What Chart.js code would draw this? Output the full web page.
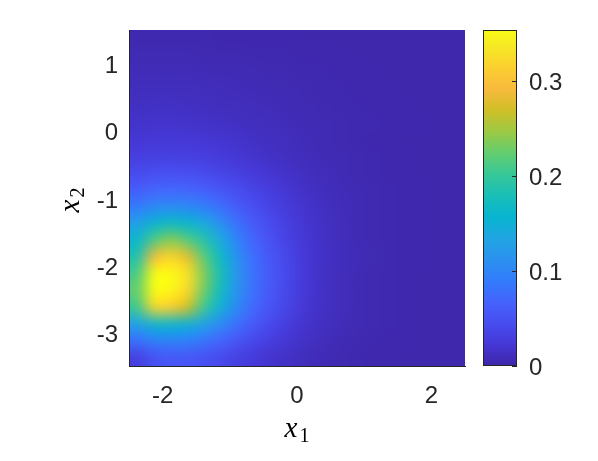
<!DOCTYPE html>
<html>
<head>
<meta charset="utf-8">
<script src="https://cdn.jsdelivr.net/npm/chart.js@4.4.1/dist/chart.umd.min.js"></script>
<style>
html, body { margin: 0; padding: 0; background: #fff; }
</style>
</head>
<body>
<canvas id="canvas" width="598" height="461"></canvas>
<script>
// cell centres of the density grid
const xCenters = [-2.375,-2.125,-1.875,-1.625,-1.375,-1.125,-0.875,-0.625,-0.375,-0.125,0.125,0.375,0.625,0.875,1.125,1.375,1.625,1.875,2.125,2.375];
const yCenters = [1.375,1.125,0.875,0.625,0.375,0.125,-0.125,-0.375,-0.625,-0.875,-1.125,-1.375,-1.625,-1.875,-2.125,-2.375,-2.625,-2.875,-3.125,-3.375];

// density values, one row per yCenters entry (top to bottom)
const density = [
  [.004,.004,.004,.004,.004,.003,.003,.003,.003,.003,.002,.002,.002,.002,.002,.002,.002,.002,.002,.002],
  [.006,.006,.006,.006,.005,.005,.005,.004,.004,.004,.003,.003,.003,.002,.002,.002,.002,.002,.002,.002],
  [.008,.008,.008,.008,.007,.007,.006,.006,.005,.005,.004,.004,.003,.003,.003,.002,.002,.002,.002,.002],
  [.010,.011,.011,.010,.010,.009,.008,.007,.006,.006,.005,.004,.004,.003,.003,.003,.002,.002,.002,.002],
  [.013,.014,.014,.013,.012,.011,.010,.009,.008,.007,.006,.005,.004,.004,.003,.003,.003,.002,.002,.002],
  [.017,.018,.018,.017,.016,.014,.013,.011,.010,.008,.007,.006,.005,.004,.004,.003,.003,.003,.002,.002],
  [.022,.024,.024,.023,.022,.020,.017,.014,.012,.010,.008,.006,.005,.004,.003,.003,.002,.002,.002,.002],
  [.030,.032,.032,.031,.029,.026,.022,.018,.015,.012,.009,.007,.006,.005,.004,.003,.003,.002,.002,.002],
  [.042,.046,.047,.046,.042,.037,.031,.025,.020,.016,.012,.009,.007,.005,.004,.003,.003,.002,.002,.002],
  [.060,.068,.070,.068,.062,.053,.044,.035,.028,.021,.015,.011,.008,.006,.005,.004,.003,.003,.002,.002],
  [.088,.102,.106,.102,.092,.076,.058,.045,.034,.026,.018,.013,.009,.007,.005,.004,.003,.003,.002,.002],
  [.128,.155,.168,.158,.140,.108,.078,.056,.042,.030,.021,.014,.010,.007,.005,.004,.003,.003,.002,.002],
  [.160,.215,.240,.218,.188,.140,.095,.066,.047,.033,.022,.015,.010,.007,.005,.004,.003,.003,.002,.002],
  [.185,.290,.320,.282,.218,.163,.108,.074,.053,.037,.024,.016,.011,.008,.006,.004,.003,.003,.002,.002],
  [.210,.354,.354,.330,.235,.175,.114,.078,.055,.038,.024,.015,.010,.007,.005,.004,.003,.002,.002,.002],
  [.225,.354,.350,.320,.228,.168,.110,.076,.054,.037,.023,.015,.010,.007,.005,.004,.003,.002,.002,.002],
  [.205,.320,.310,.270,.202,.148,.100,.070,.050,.035,.022,.014,.010,.007,.005,.004,.003,.002,.002,.002],
  [.130,.162,.162,.152,.130,.105,.077,.055,.040,.028,.019,.013,.009,.006,.005,.004,.003,.002,.002,.002],
  [.078,.093,.096,.094,.083,.067,.052,.039,.029,.021,.014,.010,.007,.005,.004,.003,.003,.002,.002,.002],
  [.030,.050,.055,.054,.048,.041,.032,.025,.019,.014,.010,.007,.005,.004,.003,.003,.002,.002,.002,.002]
];

const xRange = [-2.5, 2.5];
const yRange = [-3.5, 1.5];
const cbRange = [0, 0.354];
const xTicks = [-2, 0, 2];
const yTicks = [-3, -2, -1, 0, 1];
const cbTicks = [0, 0.1, 0.2, 0.3];

// parula colour stops
const parulaPos = [0,.0635,.127,.1905,.254,.3175,.381,.4444,.508,.5714,.635,.6984,.762,.8254,.8889,.9524,1];
const parulaRgb = [
  [62,38,168],[69,55,213],[72,77,240],[69,99,253],[50,124,252],[43,145,239],[32,165,227],[8,181,208],
  [25,191,182],[55,200,151],[100,205,111],[157,201,67],[209,191,39],[248,186,61],[252,207,48],[245,233,36],[249,251,21]
];

const axisColor = '#262626';
const tickFont = {family: '"Liberation Sans", Arial, sans-serif', size: 24};

function parula(f) {
  f = Math.max(0, Math.min(1, f));
  let k = 1;
  while (k < parulaPos.length - 1 && parulaPos[k] < f) k++;
  const t = (f - parulaPos[k-1]) / (parulaPos[k] - parulaPos[k-1]);
  const a = parulaRgb[k-1], b = parulaRgb[k];
  return [0,1,2].map(i => Math.round(a[i] + (b[i] - a[i]) * t));
}

function fixTicks(list) {
  return function (scale) { scale.ticks = list.map(v => ({value: v})); };
}

const heatmapPlugin = {
  id: 'heatmap',
  beforeDraw(chart) {
    const ctx = chart.ctx;
    const xs = chart.scales.x, ys = chart.scales.y;
    const nx = xCenters.length, ny = yCenters.length;
    // small image, one pixel per cell, edge cells repeated once all round
    const off = document.createElement('canvas');
    off.width = nx + 2; off.height = ny + 2;
    const octx = off.getContext('2d');
    const img = octx.createImageData(nx + 2, ny + 2);
    for (let j = 0; j < ny + 2; j++) {
      for (let i = 0; i < nx + 2; i++) {
        const jj = Math.min(ny - 1, Math.max(0, j - 1));
        const ii = Math.min(nx - 1, Math.max(0, i - 1));
        const c = parula(density[jj][ii] / cbRange[1]);
        const p = (j * (nx + 2) + i) * 4;
        img.data[p] = c[0]; img.data[p+1] = c[1]; img.data[p+2] = c[2]; img.data[p+3] = 255;
      }
    }
    octx.putImageData(img, 0, 0);
    const hx = (xCenters[1] - xCenters[0]) / 2;
    const hy = (yCenters[0] - yCenters[1]) / 2;
    const x0 = xs.getPixelForValue(xCenters[0] - hx);
    const x1 = xs.getPixelForValue(xCenters[nx-1] + hx);
    const y0 = ys.getPixelForValue(yCenters[0] + hy);
    const y1 = ys.getPixelForValue(yCenters[ny-1] - hy);
    const cw = (x1 - x0) / nx, ch = (y1 - y0) / ny;
    ctx.save();
    ctx.beginPath();
    ctx.rect(x0, y0, x1 - x0, y1 - y0);
    ctx.clip();
    ctx.imageSmoothingEnabled = true;
    ctx.imageSmoothingQuality = 'high';
    ctx.filter = 'blur(4px)';
    ctx.drawImage(off, x0 - cw, y0 - ch, x1 - x0 + 2 * cw, y1 - y0 + 2 * ch);
    ctx.restore();
  },
  afterDraw(chart) {
    const ctx = chart.ctx;
    const area = chart.chartArea;
    const cb = chart.scales.cb;
    // colorbar
    const left = area.right + 18, w = 34;
    const top = cb.getPixelForValue(cbRange[1]);
    const bot = cb.getPixelForValue(cbRange[0]);
    const grad = ctx.createLinearGradient(0, bot, 0, top);
    parulaPos.forEach((p, i) => grad.addColorStop(p, 'rgb(' + parulaRgb[i].join(',') + ')'));
    ctx.save();
    ctx.fillStyle = grad;
    ctx.fillRect(left, top, w, bot - top);
    ctx.strokeStyle = axisColor;
    ctx.lineWidth = 1;
    ctx.strokeRect(left + 0.5, top + 0.5, w - 1, bot - top - 1);
    ctx.beginPath();
    cbTicks.forEach(v => {
      const y = Math.round(cb.getPixelForValue(v)) + 0.5;
      ctx.moveTo(left + w - 5, y);
      ctx.lineTo(left + w, y);
    });
    ctx.stroke();

    // axis titles x1 and x2
    ctx.fillStyle = '#000';
    ctx.textBaseline = 'alphabetic';
    const bigFont = 'italic 29px "Liberation Serif", "DejaVu Serif", serif';
    const subFont = '20px "Liberation Serif", "DejaVu Serif", serif';
    function drawLabel(cx, cy, sub) {
      ctx.font = bigFont;
      const wx = ctx.measureText('x').width;
      ctx.font = subFont;
      const ws = ctx.measureText(sub).width;
      const start = cx - (wx + ws + 2) / 2;
      ctx.font = bigFont;
      ctx.textAlign = 'left';
      ctx.fillText('x', start, cy);
      ctx.font = subFont;
      ctx.fillText(sub, start + wx + 2, cy + 5);
    }
    drawLabel((area.left + area.right) / 2, 437, '1');
    ctx.translate(79, (area.top + area.bottom) / 2 + 2);
    ctx.rotate(-Math.PI / 2);
    drawLabel(0, 0, '2');
    ctx.restore();
  }
};

const config = {
  type: 'scatter',
  data: {datasets: []},
  options: {
    responsive: false,
    animation: false,
    layout: {padding: {top: 30, left: 0, right: 0, bottom: 0}},
    plugins: {legend: {display: false}, tooltip: {enabled: false}, title: {display: false}},
    scales: {
      x: {
        type: 'linear', position: 'bottom', min: xRange[0], max: xRange[1],
        afterBuildTicks: fixTicks(xTicks),
        afterFit(scale) { scale.height = 95; scale.paddingLeft = 0; scale.paddingRight = 0; },
        grid: {display: false, drawTicks: false},
        border: {display: true, color: axisColor, width: 1},
        ticks: {color: axisColor, font: tickFont, padding: 16, maxRotation: 0, callback: v => String(v)}
      },
      y: {
        type: 'linear', position: 'left', min: yRange[0], max: yRange[1],
        afterBuildTicks: fixTicks(yTicks),
        afterFit(scale) { scale.width = 129; scale.paddingTop = 0; scale.paddingBottom = 0; },
        grid: {display: false, drawTicks: false},
        border: {display: true, color: axisColor, width: 1},
        ticks: {color: axisColor, font: tickFont, padding: 11, labelOffset: 3, callback: v => String(v)}
      },
      cb: {
        type: 'linear', position: 'right', min: cbRange[0], max: cbRange[1],
        afterBuildTicks: fixTicks(cbTicks),
        // labels sit right of the colorbar; keep their padding out of the layout
        afterFit(scale) { scale.width = 133; scale.paddingTop = 0; scale.paddingBottom = 0; },
        grid: {display: false, drawTicks: false},
        border: {display: false},
        ticks: {color: axisColor, font: tickFont, padding: 64, labelOffset: 2, callback: v => String(v)}
      }
    }
  },
  plugins: [heatmapPlugin]
};

const canvas = document.getElementById('canvas');
const chart = new Chart(canvas, config);
</script>
</body>
</html>
